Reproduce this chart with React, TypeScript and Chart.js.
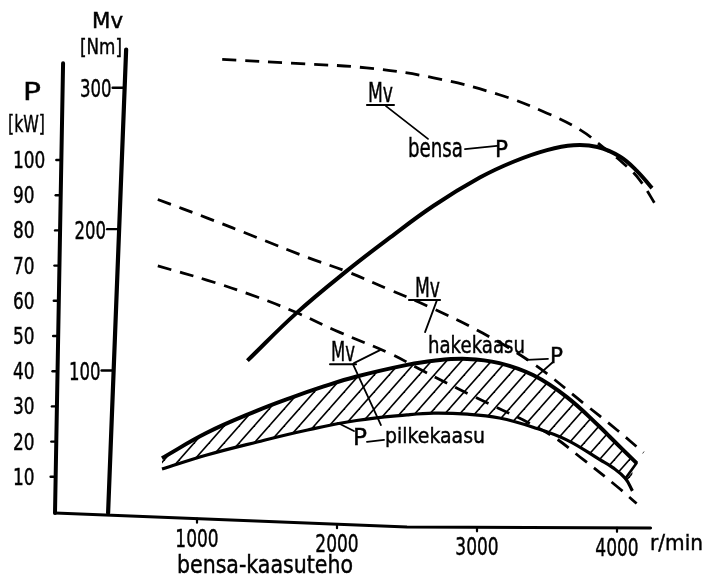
import React, { useEffect, useRef } from 'react';
import { Chart, registerables } from 'chart.js';

Chart.register(...registerables);

const INK = '#000';
const FONT = '"DejaVu Sans", "Liberation Sans", sans-serif';

// ---- axis ticks ----
const rpmTicks = [1000, 2000, 3000, 4000];
const pTicks = [10, 20, 30, 40, 50, 60, 70, 80, 90, 100];
const mvTicks = [100, 200, 300];

// ---- bensa (petrol) ----
const bensaMvRpm = [1180, 1740, 2210, 2690, 3160, 3500, 3740, 3900, 4040, 4160, 4290];
const bensaMv = [320, 317, 314, 307, 295, 282, 270, 258, 247, 235, 215];
const bensaPRpm = [1360, 1710, 2070, 2380, 2690, 3020, 3260, 3500, 3690, 3860, 4020, 4140, 4250];
const bensaP = [43, 56.5, 68.5, 78, 87, 95, 99.5, 102.8, 104.2, 103.7, 101, 97, 92];

// ---- hakekaasu (wood chip gas) ----
const hakeMvRpm = [720, 1070, 1430, 1790, 2070, 2380, 2660, 3040, 3400, 3760, 4000, 4190];
const hakeMv = [221, 208, 194, 180, 170, 157, 145, 126.5, 105, 77, 58, 42];
const hakePRpm = [750, 1070, 1430, 1660, 1900, 2140, 2500, 2690, 2930, 3160, 3400, 3640, 3880, 3950, 4140];
const hakeP = [15.3, 22.5, 28.8, 32.3, 35.6, 38.5, 41.8, 43, 43.5, 42.3, 38.9, 32.7, 24.1, 21.3, 13.9];

// ---- pilkekaasu (firewood gas) ----
const pilkeMvRpm = [720, 1070, 1430, 1710, 2020, 2380, 2610, 2950, 3500, 3760, 4000, 4140];
const pilkeMv = [174, 164, 152, 141, 127, 112, 100, 83, 56, 37, 18, 6];
const pilkePRpm = [750, 1070, 1430, 1790, 2140, 2500, 2690, 2930, 3160, 3400, 3640, 3880, 3970, 4060, 4110];
const pilkeP = [12.2, 16.2, 19.9, 23.3, 26, 27.6, 28.1, 27.8, 26.7, 24.1, 20.5, 14.8, 12.6, 9.5, 6];

const pts = (xs: number[], ys: number[]) => xs.map((x, i) => ({ x, y: ys[i] }));

function seg(ctx: CanvasRenderingContext2D, x1: number, y1: number, x2: number, y2: number, w: number) {
  ctx.lineWidth = w;
  ctx.beginPath();
  ctx.moveTo(x1, y1);
  ctx.lineTo(x2, y2);
  ctx.stroke();
}

function paint(ctx: CanvasRenderingContext2D, s: string) {
  ctx.fillText(s, 0, 0);
  ctx.lineWidth = 0.45;
  ctx.strokeText(s, 0, 0);
}

function fitText(ctx: CanvasRenderingContext2D, s: string, x: number, base: number, size: number, width: number) {
  ctx.save();
  ctx.font = `${size}px ${FONT}`;
  ctx.textAlign = 'left';
  ctx.textBaseline = 'alphabetic';
  const m = ctx.measureText(s).width;
  ctx.translate(x, base);
  ctx.scale(width / m, 1);
  paint(ctx, s);
  ctx.restore();
}

function numText(ctx: CanvasRenderingContext2D, s: string, x: number, base: number, size: number, sx: number, align: string) {
  ctx.save();
  ctx.font = `${size}px ${FONT}`;
  ctx.textAlign = 'left';
  ctx.textBaseline = 'alphabetic';
  const w = ctx.measureText(s).width * sx;
  const left = align === 'left' ? x : align === 'right' ? x - w : x - w / 2;
  ctx.translate(left, base);
  ctx.scale(sx, 1);
  paint(ctx, s);
  ctx.restore();
}

const sketchPlugin = {
  id: 'sketch',
  afterDraw(chart: any) {
    const ctx: CanvasRenderingContext2D = chart.ctx;
    const xs = chart.scales.x;
    const ys = chart.scales.y;
    const ms = chart.scales.y2;
    const X = (r: number) => xs.getPixelForValue(r);
    const Y = (p: number) => ys.getPixelForValue(p);
    const M = (m: number) => ms.getPixelForValue(m);
    const x0 = X(0);
    const y0 = Y(0);

    ctx.save();
    ctx.strokeStyle = INK;
    ctx.fillStyle = INK;
    ctx.lineCap = 'round';

    // P axis (leans slightly, like the drawing)
    const pAxisX = (py: number) => x0 - 2 + (y0 - py) * 0.018;
    const pTop = Y(127.5);
    seg(ctx, pAxisX(y0), y0 + 1, pAxisX(pTop), pTop, 4);
    pTicks.forEach((v) => {
      const ty = Y(v);
      const ax = pAxisX(ty);
      seg(ctx, ax - 5, ty, ax, ty, 2.4);
      numText(ctx, String(v), x0 - 44, ty + 8, 22.6, 0.75, 'left');
    });

    // Mv axis
    const mx = X(365);
    const mAxisX = (py: number) => mx + (y0 - py) * 0.039;
    const mTop = M(327);
    seg(ctx, mAxisX(y0), y0 + 1, mAxisX(mTop), mTop, 4.2);
    mvTicks.forEach((v) => {
      const ty = M(v);
      const ax = mAxisX(ty);
      seg(ctx, ax - 12, ty, ax, ty, 2.4);
      numText(ctx, String(v), ax - 13, ty + 9.5, 24.7, 0.67, 'right');
    });

    // x axis (slightly bent, like the scan)
    const xa = [
      [x0 - 2, y0 + 1],
      [X(2500), y0 + 15],
      [X(4240), y0 + 16],
    ];
    ctx.lineWidth = 3;
    ctx.beginPath();
    ctx.moveTo(xa[0][0], xa[0][1]);
    ctx.lineTo(xa[1][0], xa[1][1]);
    ctx.lineTo(xa[2][0], xa[2][1]);
    ctx.stroke();
    const axisY = (px: number) => {
      if (px <= xa[1][0]) return xa[0][1] + ((px - xa[0][0]) * (xa[1][1] - xa[0][1])) / (xa[1][0] - xa[0][0]);
      return xa[1][1] + ((px - xa[1][0]) * (xa[2][1] - xa[1][1])) / (xa[2][0] - xa[1][0]);
    };
    rpmTicks.forEach((v) => {
      const tx = X(v);
      const ay = axisY(tx);
      seg(ctx, tx, ay, tx, ay + 4, 2.2);
      numText(ctx, String(v), tx, ay + 28, 24.7, 0.69, 'center');
    });

    // axis titles
    fitText(ctx, 'Mv', 92, 28, 20.6, 31);
    fitText(ctx, '[Nm]', 80, 54, 21.3, 42);
    fitText(ctx, 'P', 23, 100, 24.7, 18);
    fitText(ctx, '[kW]', 8, 132, 22.5, 37);
    fitText(ctx, 'r/min', X(4236), Y(-10.8), 22, 53);
    fitText(ctx, 'bensa-kaasuteho', X(857), Y(-17.3), 24, 176);

    // curve labels (positions in rpm / kW units)
    const L = (r1: number, p1: number, r2: number, p2: number, w = 1.8) => seg(ctx, X(r1), Y(p1), X(r2), Y(p2), w);

    // bensa
    fitText(ctx, 'Mv', X(2221), Y(116.5), 27, 25);
    L(2214, 115.6, 2407, 115.6, 2);
    L(2350, 115.3, 2650, 106);
    fitText(ctx, 'bensa', X(2507), Y(100.9), 26, 55);
    L(2914, 103.1, 3143, 104);
    fitText(ctx, 'P', X(3129), Y(100.9), 23.5, 13);

    // hakekaasu
    fitText(ctx, 'Mv', X(2557), Y(61.1), 26, 25);
    L(2514, 60.2, 2736, 60.2, 2);
    L(2714, 60.2, 2629, 51.1);
    fitText(ctx, 'hakekaasu', X(2650), Y(45.2), 23.7, 97);
    L(3357, 43.2, 3507, 43.5);
    fitText(ctx, 'P', X(3521), Y(42.3), 22, 13);
    L(3543, 42.6, 3429, 38.6);

    // pilkekaasu
    fitText(ctx, 'Mv', X(1957), Y(42.9), 26, 24);
    L(1950, 42, 2136, 42, 2);
    L(2121, 42.3, 2307, 46);
    L(2114, 42, 2314, 24.7);
    fitText(ctx, 'P', X(2114), Y(19), 23, 14);
    L(2121, 23, 2007, 25.3);
    L(2214, 19.9, 2336, 20.5);
    fitText(ctx, 'pilkekaasu', X(2343), Y(19.6), 22, 100);

    // closing stroke of the hatched band
    const up = chart.getDatasetMeta(4).data;
    const lo = chart.getDatasetMeta(5).data;
    const a = up[up.length - 1];
    const b = lo[lo.length - 2];
    seg(ctx, a.x, a.y, b.x, b.y, 2.6);

    ctx.restore();
  },
};

function makeHatch(target: CanvasRenderingContext2D) {
  const w = 15;
  const h = 17;
  const c = document.createElement('canvas');
  c.width = w;
  c.height = h;
  const g = c.getContext('2d')!;
  g.strokeStyle = INK;
  g.lineWidth = 1.6;
  for (const dx of [-w, 0, w]) {
    g.beginPath();
    g.moveTo(dx - w, 2 * h);
    g.lineTo(dx + 2 * w, -h);
    g.stroke();
  }
  return target.createPattern(c, 'repeat');
}

export default function App() {
  const ref = useRef<HTMLCanvasElement>(null);

  useEffect(() => {
    document.body.style.margin = '0';
    document.body.style.background = '#fff';
    const canvas = ref.current!;
    const hatch = makeHatch(canvas.getContext('2d')!);
    const dash = [14, 9];

    const chart = new Chart(canvas, {
      type: 'line',
      data: {
        datasets: [
          { label: 'Mv bensa', data: pts(bensaMvRpm, bensaMv), yAxisID: 'y2', borderDash: dash, borderWidth: 2.8 },
          { label: 'P bensa', data: pts(bensaPRpm, bensaP), yAxisID: 'y', borderWidth: 4 },
          { label: 'Mv hakekaasu', data: pts(hakeMvRpm, hakeMv), yAxisID: 'y2', borderDash: dash, borderWidth: 2.8 },
          { label: 'Mv pilkekaasu', data: pts(pilkeMvRpm, pilkeMv), yAxisID: 'y2', borderDash: dash, borderWidth: 2.8 },
          { label: 'P hakekaasu', data: pts(hakePRpm, hakeP), yAxisID: 'y', borderWidth: 4, fill: '+1', backgroundColor: hatch as any },
          { label: 'P pilkekaasu', data: pts(pilkePRpm, pilkeP), yAxisID: 'y', borderWidth: 3.2 },
        ],
      },
      options: {
        animation: false,
        responsive: false,
        maintainAspectRatio: false,
        events: [],
        layout: { padding: { left: 57, right: 7, top: 36.8, bottom: 73 } },
        elements: {
          line: { borderColor: INK, tension: 0.4, fill: false, borderCapStyle: 'butt', borderJoinStyle: 'round' },
          point: { radius: 0, hoverRadius: 0 },
        },
        plugins: { legend: { display: false }, tooltip: { enabled: false } },
        scales: {
          x: { type: 'linear', min: 0, max: 4600, display: false },
          y: { type: 'linear', min: 0, max: 135, display: false },
          y2: { type: 'linear', min: 0, max: 336, display: false },
        },
      },
      plugins: [sketchPlugin],
    } as any);

    return () => chart.destroy();
  }, []);

  return <canvas ref={ref} width={708} height={585} style={{ display: 'block', width: 708, height: 585 }} />;
}
